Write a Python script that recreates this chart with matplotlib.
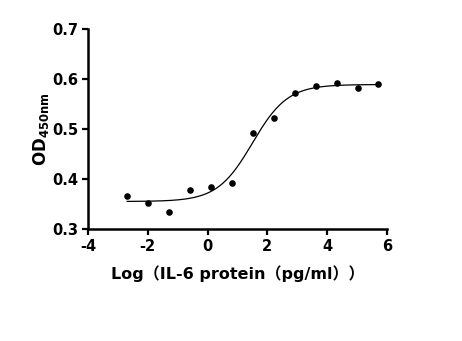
import numpy as np
import matplotlib
matplotlib.use('Agg')
import matplotlib.pyplot as plt

# measured points (log concentration, OD450)
log_conc = [-2.69, -1.98, -1.28, -0.58, 0.12, 0.82, 1.53, 2.23, 2.93, 3.63, 4.34, 5.04, 5.71]
od450 = [0.367, 0.352, 0.335, 0.379, 0.385, 0.393, 0.493, 0.523, 0.573, 0.587, 0.592, 0.583, 0.591]

# four-parameter logistic fit
bottom, top, log_ec50, hill = 0.355, 0.589, 1.50, 0.74

x_ticks = [-4, -2, 0, 2, 4, 6]
y_ticks = [0.3, 0.4, 0.5, 0.6, 0.7]

plt.rcParams['font.family'] = ['DejaVu Sans', 'Noto Sans CJK SC']
plt.rcParams['font.weight'] = 'bold'
plt.rcParams['mathtext.fontset'] = 'dejavusans'

fig = plt.figure(figsize=(4.62, 3.41), dpi=100, facecolor='w')
ax = fig.add_axes([88 / 462, 1 - 229 / 341, (387 - 88) / 462, (229 - 29) / 341])

xs = np.linspace(min(log_conc), max(log_conc), 300)
fit = bottom + (top - bottom) / (1 + 10 ** ((log_ec50 - xs) * hill))
ax.plot(xs, fit, color='black', lw=0.9)
ax.scatter(log_conc, od450, s=14, color='black', zorder=3, clip_on=False)

ax.set_xlim(-4, 6)
ax.set_ylim(0.3, 0.7)
ax.set_xticks(x_ticks)
ax.set_yticks(y_ticks)
ax.set_xticklabels([str(t) for t in x_ticks])
ax.set_yticklabels(['%.1f' % t for t in y_ticks])
for s in ['top', 'right']:
    ax.spines[s].set_visible(False)
for s in ['left', 'bottom']:
    ax.spines[s].set_linewidth(1.8)
ax.tick_params(direction='out', length=4, width=1.6, labelsize=10.5, pad=3)

ax.set_xlabel('Log（IL-6 protein（pg/ml））', fontsize=11.5, fontweight='bold', labelpad=8)
ax.set_ylabel('$\\mathbf{OD}_{\\mathbf{450nm}}$', fontsize=12, labelpad=1)

fig.savefig('out.png', dpi=100)
